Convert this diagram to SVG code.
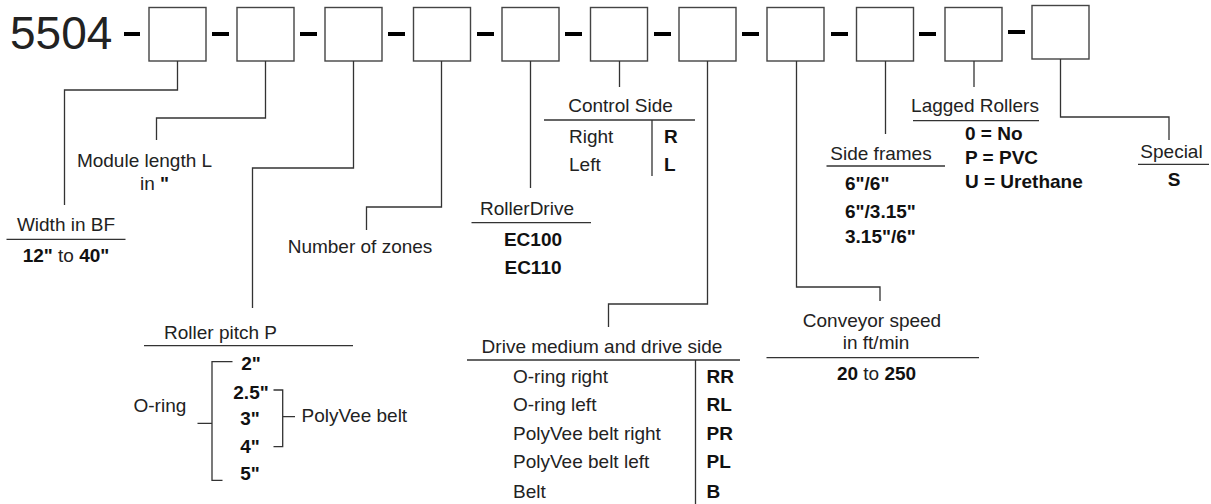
<svg xmlns="http://www.w3.org/2000/svg" width="1211" height="504" viewBox="0 0 1211 504">
<style>
.t{font-family:"Liberation Sans",Arial,sans-serif;font-size:19px;fill:#222}
.b{font-family:"Liberation Sans",Arial,sans-serif;font-size:19px;font-weight:bold;fill:#111}
.m{text-anchor:middle}
.box{fill:#fff;stroke:#444;stroke-width:1.4}
.dash{fill:#000}
.ln{fill:none;stroke:#333;stroke-width:1.3}
</style>
<rect width="1211" height="504" fill="#fff"/>
<text x="10" y="49" style="font-family:'Liberation Sans',Arial,sans-serif;font-size:46px;fill:#222">5504</text>
<g id="dashes">
<rect class="dash" x="124" y="32" width="16" height="4"/>
<rect class="dash" x="212" y="32" width="17" height="4"/>
<rect class="dash" x="300" y="32" width="17" height="4"/>
<rect class="dash" x="388" y="32" width="17" height="4"/>
<rect class="dash" x="477" y="32" width="17" height="4"/>
<rect class="dash" x="565" y="32" width="17" height="4"/>
<rect class="dash" x="654" y="32" width="17" height="4"/>
<rect class="dash" x="742" y="32" width="17" height="4"/>
<rect class="dash" x="831" y="32" width="17" height="4"/>
<rect class="dash" x="919" y="32" width="17" height="4"/>
<rect class="dash" x="1008" y="30" width="17" height="4"/>
</g>
<g id="box1"><rect class="box" x="149" y="7.5" width="57" height="53.5"/></g>
<g id="box2"><rect class="box" x="237" y="7.5" width="57" height="53.5"/></g>
<g id="box3"><rect class="box" x="325" y="7.5" width="57" height="53.5"/></g>
<g id="box4"><rect class="box" x="413.5" y="7.5" width="57" height="53.5"/></g>
<g id="box5"><rect class="box" x="502" y="7.5" width="57" height="53.5"/></g>
<g id="box6"><rect class="box" x="590.5" y="7.5" width="57" height="53.5"/></g>
<g id="box7"><rect class="box" x="679" y="7.5" width="57" height="53.5"/></g>
<g id="box8"><rect class="box" x="767" y="7.5" width="57" height="53.5"/></g>
<g id="box9"><rect class="box" x="856.5" y="7.5" width="57" height="53.5"/></g>
<g id="box10"><rect class="box" x="945" y="7.5" width="57" height="53.5"/></g>
<g id="box11"><rect class="box" x="1032" y="5.5" width="57" height="53.5"/></g>
<g id="connectors">
<path class="ln" d="M177.5 61V90H64.5V205"/>
<path class="ln" d="M265.5 61V118H156.5V140"/>
<path class="ln" d="M353.5 61V168H252.5V308"/>
<path class="ln" d="M441.5 61V207H366.5V230"/>
<path class="ln" d="M530.5 61V188"/>
<path class="ln" d="M619.5 61V87"/>
<path class="ln" d="M707.5 61V304H608.5V327"/>
<path class="ln" d="M796.5 61V287H880V301"/>
<path class="ln" d="M885.5 61V134"/>
<path class="ln" d="M974 61V87"/>
<path class="ln" d="M1060.5 59V117H1169V140"/>
</g>
<g id="width">
<text class="t m" x="66" y="231">Width in BF</text>
<path class="ln" d="M6.5 239.3H125.5"/>
<text class="t m" x="66" y="262"><tspan class="b">12"</tspan> to <tspan class="b">40"</tspan></text>
</g>
<g id="module">
<text class="t m" x="144.5" y="167">Module length L</text>
<text class="t" x="140" y="190">in <tspan class="b">"</tspan></text>
</g>
<g id="zones">
<text class="t m" x="360" y="253">Number of zones</text>
</g>
<g id="rollerdrive">
<text class="t m" x="527" y="215">RollerDrive</text>
<path class="ln" d="M471.5 222.7H591"/>
<text class="b m" x="533" y="246">EC100</text>
<text class="b m" x="533" y="274">EC110</text>
</g>
<g id="control">
<text class="t m" x="620.5" y="112">Control Side</text>
<path class="ln" d="M544 120H695M652 120V176"/>
<text class="t" x="569" y="143">Right</text>
<text class="b" x="664" y="143">R</text>
<text class="t" x="569" y="171">Left</text>
<text class="b" x="664" y="171">L</text>
</g>
<g id="drive">
<text class="t m" x="602" y="352.5">Drive medium and drive side</text>
<path class="ln" d="M467 360H740M695.5 360V504"/>
<text class="t" x="513" y="383">O-ring right</text>
<text class="b" x="706.5" y="383">RR</text>
<text class="t" x="513" y="410.5">O-ring left</text>
<text class="b" x="706.5" y="410.5">RL</text>
<text class="t" x="513" y="439.5">PolyVee belt right</text>
<text class="b" x="706.5" y="439.5">PR</text>
<text class="t" x="513" y="468">PolyVee belt left</text>
<text class="b" x="706.5" y="468">PL</text>
<text class="t" x="513" y="498">Belt</text>
<text class="b" x="706.5" y="498">B</text>
</g>
<g id="speed">
<text class="t m" x="872" y="327">Conveyor speed</text>
<text class="t m" x="876" y="349">in ft/min</text>
<path class="ln" d="M766.5 357.7H979"/>
<text class="t m" x="876.5" y="380"><tspan class="b">20</tspan> to <tspan class="b">250</tspan></text>
</g>
<g id="sideframes">
<text class="t m" x="881" y="160">Side frames</text>
<path class="ln" d="M826.5 166H945"/>
<text class="b" x="845" y="190">6"/6"</text>
<text class="b" x="845" y="218">6"/3.15"</text>
<text class="b" x="845" y="243">3.15"/6"</text>
</g>
<g id="lagged">
<text class="t m" x="975" y="111.5">Lagged Rollers</text>
<path class="ln" d="M913 120.7H1039"/>
<text class="b" x="965" y="140">0 = No</text>
<text class="b" x="965" y="163.5">P = PVC</text>
<text class="b" x="965" y="187.5">U = Urethane</text>
</g>
<g id="special">
<text class="t m" x="1171.5" y="158.3">Special</text>
<path class="ln" d="M1138 164.3H1209"/>
<text class="b m" x="1174" y="186">S</text>
</g>
<g id="pitch">
<text class="t m" x="220.5" y="339.3">Roller pitch P</text>
<path class="ln" d="M144 345.7H353"/>
<text class="b m" x="251" y="370">2"</text>
<text class="b m" x="251" y="399">2.5"</text>
<text class="b m" x="250" y="425">3"</text>
<text class="b m" x="250" y="453">4"</text>
<text class="b m" x="250" y="480">5"</text>
<path class="ln" d="M232.5 361.7H212V480.3H222.5M197.5 423.3H212"/>
<path class="ln" d="M273.5 390H282.7V446.7H273.5M282.7 416.7H295"/>
<text class="t" x="133.5" y="411.7">O-ring</text>
<text class="t" x="301.5" y="421.7">PolyVee belt</text>
</g>
</svg>
